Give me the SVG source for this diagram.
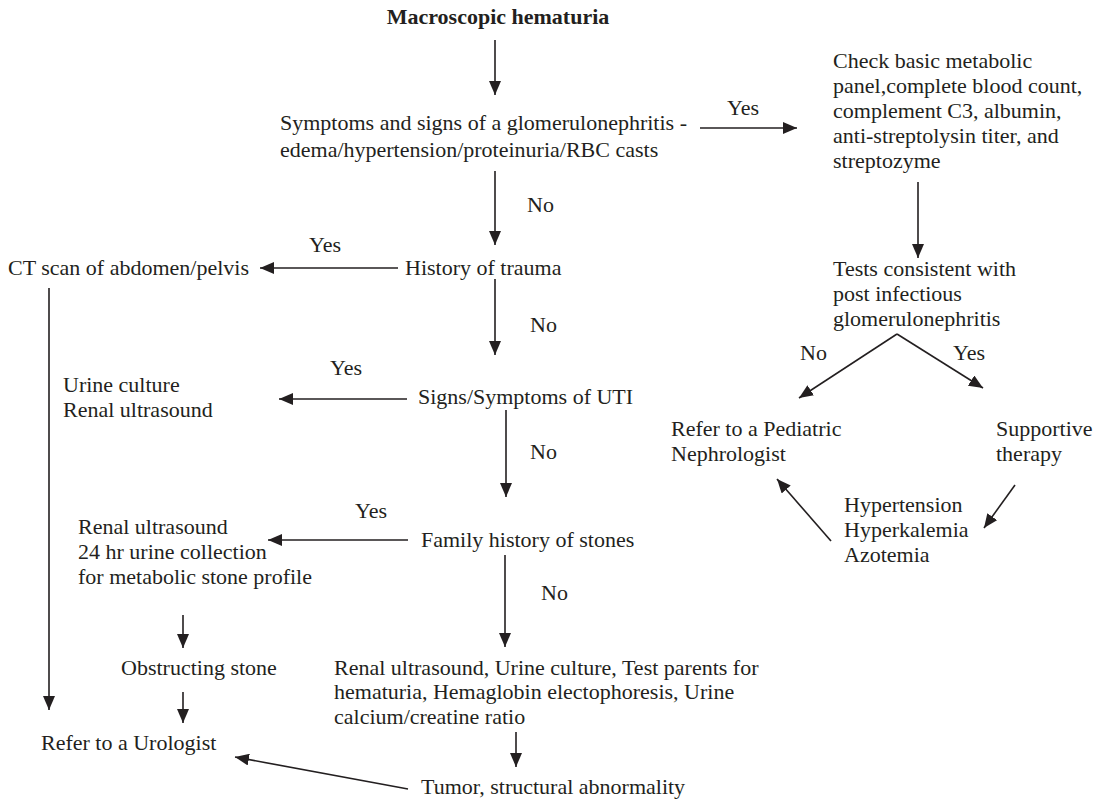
<svg xmlns="http://www.w3.org/2000/svg" width="1101" height="800" viewBox="0 0 1101 800">
<style>
text{font-family:"Liberation Serif","Times New Roman",serif;font-size:22px;fill:#231f20}
.b{font-weight:bold}
.c line{stroke:#231f20;stroke-width:1.6;marker-end:url(#ah)}
.c line.n{marker-end:none}
</style>
<defs>
<marker id="ah" markerUnits="userSpaceOnUse" markerWidth="14" markerHeight="12" refX="14" refY="6" orient="auto">
<path d="M0,0 L14,6 L0,12 z" fill="#231f20"/>
</marker>
</defs>
<rect width="1101" height="800" fill="#fff"/>
<g id="n-macro"><text class="b" x="498" y="24" text-anchor="middle">Macroscopic hematuria</text></g>
<g id="n-glom"><text x="280" y="130">Symptoms and signs of a glomerulonephritis -</text><text x="280" y="157">edema/hypertension/proteinuria/RBC casts</text></g>
<g id="n-check"><text x="833" y="68">Check basic metabolic</text><text x="833" y="93">panel,complete blood count,</text><text x="833" y="118">complement C3, albumin,</text><text x="833" y="143">anti-streptolysin titer, and</text><text x="833" y="168">streptozyme</text></g>
<g id="n-tests"><text x="833" y="276">Tests consistent with</text><text x="833" y="301">post infectious</text><text x="833" y="326">glomerulonephritis</text></g>
<g id="n-pedneph"><text x="671" y="436">Refer to a Pediatric</text><text x="671" y="461">Nephrologist</text></g>
<g id="n-support"><text x="996" y="436">Supportive</text><text x="996" y="461">therapy</text></g>
<g id="n-hyper"><text x="844" y="512">Hypertension</text><text x="844" y="537">Hyperkalemia</text><text x="844" y="562">Azotemia</text></g>
<g id="n-trauma"><text x="405" y="275">History of trauma</text></g>
<g id="n-ct"><text x="8" y="275">CT scan of abdomen/pelvis</text></g>
<g id="n-uti"><text x="418" y="404">Signs/Symptoms of UTI</text></g>
<g id="n-urine"><text x="63" y="392">Urine culture</text><text x="63" y="417">Renal ultrasound</text></g>
<g id="n-family"><text x="421" y="547">Family history of stones</text></g>
<g id="n-stoneprof"><text x="78" y="534">Renal ultrasound</text><text x="78" y="559">24 hr urine collection</text><text x="78" y="584">for metabolic stone profile</text></g>
<g id="n-obstruct"><text x="121" y="675">Obstructing stone</text></g>
<g id="n-urologist"><text x="41" y="750">Refer to a Urologist</text></g>
<g id="n-tests2"><text x="334" y="675">Renal ultrasound, Urine culture, Test parents for</text><text x="334" y="699">hematuria, Hemaglobin electophoresis, Urine</text><text x="334" y="724">calcium/creatine ratio</text></g>
<g id="n-tumor"><text x="421" y="794">Tumor, structural abnormality</text></g>
<g id="connectors" class="c">
<line x1="495" y1="40" x2="495" y2="95"/>
<line x1="700" y1="128" x2="797" y2="128"/>
<line x1="495" y1="171" x2="495" y2="245"/>
<line x1="918" y1="182" x2="918" y2="258"/>
<line x1="897" y1="334" x2="799" y2="398"/>
<line x1="897" y1="334" x2="983" y2="388"/>
<line x1="1015" y1="485" x2="984" y2="528"/>
<line x1="831" y1="541" x2="777" y2="479"/>
<line x1="398" y1="268" x2="260" y2="268"/>
<line x1="49" y1="288" x2="49" y2="710"/>
<line x1="495" y1="279" x2="495" y2="355"/>
<line x1="407" y1="399" x2="279" y2="399"/>
<line x1="506" y1="410" x2="506" y2="497"/>
<line x1="408" y1="540" x2="268" y2="540"/>
<line x1="505" y1="555" x2="505" y2="647"/>
<line x1="183" y1="615" x2="183" y2="648"/>
<line x1="183" y1="692" x2="183" y2="723"/>
<line x1="516" y1="732" x2="516" y2="767"/>
<line x1="408" y1="789" x2="235" y2="757"/>
</g>
<g id="labels">
<text x="727" y="115">Yes</text>
<text x="527" y="212">No</text>
<text x="309" y="252">Yes</text>
<text x="530" y="332">No</text>
<text x="330" y="375">Yes</text>
<text x="530" y="459">No</text>
<text x="355" y="518">Yes</text>
<text x="541" y="600">No</text>
<text x="800" y="360">No</text>
<text x="953" y="360">Yes</text>
</g>
</svg>
